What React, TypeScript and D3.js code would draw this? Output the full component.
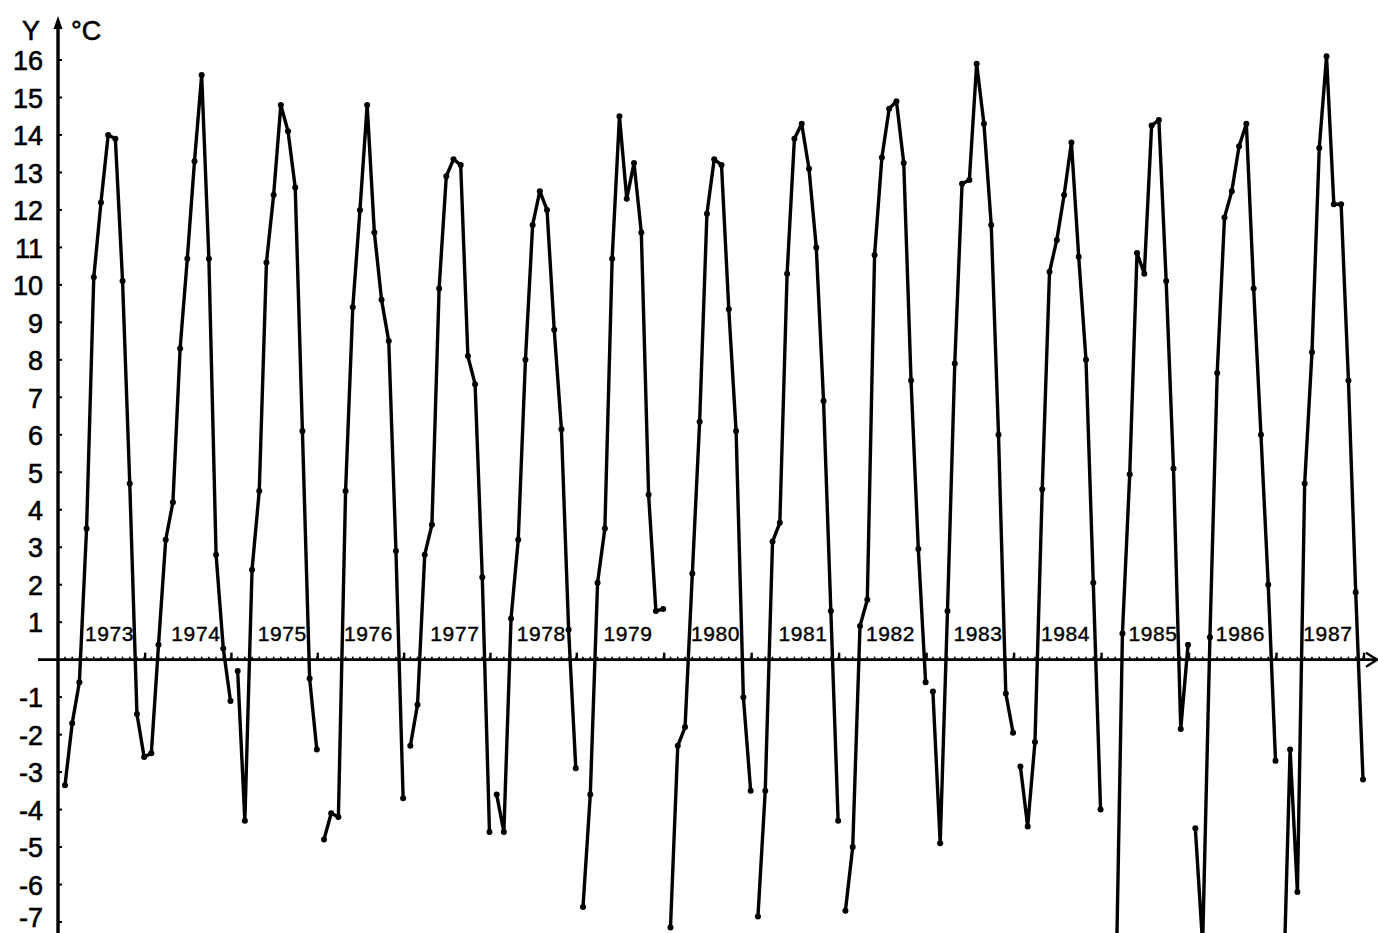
import { useEffect, useRef } from "react";
import * as d3 from "d3";

// monthly mean temperature, one row of 12 per year (Jan..Dec)
const years = [1973, 1974, 1975, 1976, 1977, 1978, 1979, 1980, 1981, 1982, 1983, 1984, 1985, 1986, 1987];

const t1973 = [-3.35, -1.7, -0.6, 3.5, 10.2, 12.2, 14.0, 13.9, 10.1, 4.7, -1.45, -2.6];
const t1974 = [-2.5, 0.4, 3.2, 4.2, 8.3, 10.7, 13.3, 15.6, 10.7, 2.8, 0.3, -1.1];
const t1975 = [-0.3, -4.3, 2.4, 4.5, 10.6, 12.4, 14.8, 14.1, 12.6, 6.1, -0.5, -2.4];
const t1976 = [-4.8, -4.1, -4.2, 4.5, 9.4, 12.0, 14.8, 11.4, 9.6, 8.5, 2.9, -3.7];
const t1977 = [-2.3, -1.2, 2.8, 3.6, 9.9, 12.9, 13.35, 13.2, 8.1, 7.35, 2.2, -4.6];
const t1978 = [-3.6, -4.6, 1.1, 3.2, 8.0, 11.6, 12.5, 12.0, 8.8, 6.15, 0.8, -2.9];
const t1979 = [-6.6, -3.6, 2.05, 3.5, 10.7, 14.5, 12.3, 13.25, 11.4, 4.4, 1.3, 1.35];
const t1980 = [-7.15, -2.3, -1.8, 2.3, 6.35, 11.9, 13.35, 13.2, 9.35, 6.1, -1.0, -3.5];
const t1981 = [-6.85, -3.5, 3.15, 3.65, 10.3, 13.9, 14.3, 13.1, 11.0, 6.9, 1.3, -4.3];
const t1982 = [-6.7, -5.0, 0.9, 1.6, 10.8, 13.4, 14.7, 14.9, 13.25, 7.45, 2.95, -0.6];
const t1983 = [-0.85, -4.9, 1.3, 7.9, 12.7, 12.8, 15.9, 14.3, 11.6, 6.0, -0.9, -1.95];
const t1984 = [-2.85, -4.45, -2.2, 4.55, 10.35, 11.2, 12.4, 13.8, 10.75, 8.0, 2.05, -4.0];
const t1985 = [-8.5, -10.0, 0.7, 4.95, 10.85, 10.3, 14.25, 14.4, 10.1, 5.1, -1.85, 0.4];
const t1986 = [-4.5, -7.6, 0.6, 7.65, 11.8, 12.5, 13.7, 14.3, 9.9, 6.0, 2.0, -2.7];
const t1987 = [-9.5, -2.4, -6.2, 4.7, 8.2, 13.65, 16.1, 12.15, 12.15, 7.45, 1.8, -3.2];

const temps = [t1973, t1974, t1975, t1976, t1977, t1978, t1979, t1980, t1981, t1982, t1983, t1984, t1985, t1986, t1987];

// whether a year's curve is drawn joined to the previous year's curve
const joinedToPrev = [false, true, false, false, false, false, false, false, false, false, false, false, false, false, false];

const yTicks = d3.range(-7, 17).filter((v) => v !== 0);

function App() {
  const svgRef = useRef(null);

  const width = 1378;
  const height = 933;

  useEffect(() => {
    const svg = d3.select(svgRef.current);
    svg.selectAll("*").remove();

    const nMonths = years.length * 12;
    // the scanned time axis is slightly stretched in its right part
    const x = d3.scaleLinear().domain([0, 72, nMonths - 1]).range([65, 583, 1363]);
    const y = d3.scaleLinear().domain([-7, 16]).range([922, 60]);
    const x0 = 58;
    const y0 = y(0);
    const font = "'Liberation Sans', Arial, sans-serif";

    const segments = [];
    temps.forEach((row, yi) => {
      const pts = row.map((v, m) => ({ i: yi * 12 + m, v }));
      if (joinedToPrev[yi] && segments.length) {
        segments[segments.length - 1].push(...pts);
      } else {
        segments.push(pts);
      }
    });

    const line = d3.line().x((d) => x(d.i)).y((d) => y(d.v));

    // x axis
    svg.append("line")
      .attr("x1", 38).attr("x2", 1376)
      .attr("y1", y0).attr("y2", y0)
      .attr("stroke", "black").attr("stroke-width", 2.8);
    svg.append("path")
      .attr("d", `M1366,${y0 - 7} L1377,${y0} L1366,${y0 + 7}`)
      .attr("fill", "none").attr("stroke", "black").attr("stroke-width", 2.4);

    svg.append("g")
      .selectAll("line")
      .data(d3.range(nMonths))
      .join("line")
      .attr("x1", (d) => x(d)).attr("x2", (d) => x(d))
      .attr("y1", y0).attr("y2", y0 - 3)
      .attr("stroke", "black").attr("stroke-width", 1.6);

    svg.append("g")
      .selectAll("line")
      .data(years)
      .join("line")
      .attr("x1", (d, i) => x(i * 12 + 11) + 1).attr("x2", (d, i) => x(i * 12 + 11) + 1)
      .attr("y1", y0).attr("y2", y0 - 7)
      .attr("stroke", "black").attr("stroke-width", 2.4);

    svg.append("g")
      .selectAll("text")
      .data(years)
      .join("text")
      .attr("x", (d, i) => (x(i * 12) + x(i * 12 + 11)) / 2 + 5)
      .attr("y", 641)
      .attr("text-anchor", "middle")
      .attr("font-family", font)
      .attr("font-size", 21)
      .attr("letter-spacing", 0.6)
      .attr("fill", "black")
      .attr("stroke", "black")
      .attr("stroke-width", 0.4)
      .text((d) => d);

    // y axis
    svg.append("line")
      .attr("x1", x0).attr("x2", x0)
      .attr("y1", 22).attr("y2", height)
      .attr("stroke", "black").attr("stroke-width", 3.4);
    svg.append("path")
      .attr("d", `M${x0 - 4.5},${29} L${x0},${16} L${x0 + 4.5},${29} Z`)
      .attr("fill", "black");

    svg.append("g")
      .selectAll("line")
      .data(yTicks)
      .join("line")
      .attr("x1", x0).attr("x2", x0 + 4)
      .attr("y1", (d) => y(d)).attr("y2", (d) => y(d))
      .attr("stroke", "black").attr("stroke-width", 2);

    svg.append("g")
      .selectAll("text")
      .data(yTicks)
      .join("text")
      .attr("x", 43)
      .attr("y", (d) => y(d))
      .attr("dy", (d) => (d === -7 ? "0.2em" : "0.38em"))
      .attr("text-anchor", "end")
      .attr("font-family", font)
      .attr("font-size", 27)
      .attr("fill", "black")
      .attr("stroke", "black")
      .attr("stroke-width", 0.6)
      .text((d) => d);

    svg.append("text")
      .attr("x", 22).attr("y", 40)
      .attr("font-family", font)
      .attr("font-size", 27)
      .attr("stroke", "black").attr("stroke-width", 0.6)
      .text("Y");
    svg.append("text")
      .attr("x", 71).attr("y", 40)
      .attr("font-family", font)
      .attr("font-size", 27)
      .attr("stroke", "black").attr("stroke-width", 0.6)
      .text("°C");

    // curve
    svg.append("g")
      .selectAll("path")
      .data(segments)
      .join("path")
      .attr("d", (d) => line(d))
      .attr("fill", "none")
      .attr("stroke", "black")
      .attr("stroke-width", 3.4)
      .attr("stroke-linejoin", "round");

    svg.append("g")
      .selectAll("circle")
      .data(segments.flat())
      .join("circle")
      .attr("cx", (d) => x(d.i))
      .attr("cy", (d) => y(d.v))
      .attr("r", 3)
      .attr("fill", "black");
  }, []);

  return (
    <div style={{ position: "absolute", left: 0, top: 0, background: "white" }}>
      <svg width={width} height={height} ref={svgRef} style={{ display: "block" }}></svg>
    </div>
  );
}

export default App;
